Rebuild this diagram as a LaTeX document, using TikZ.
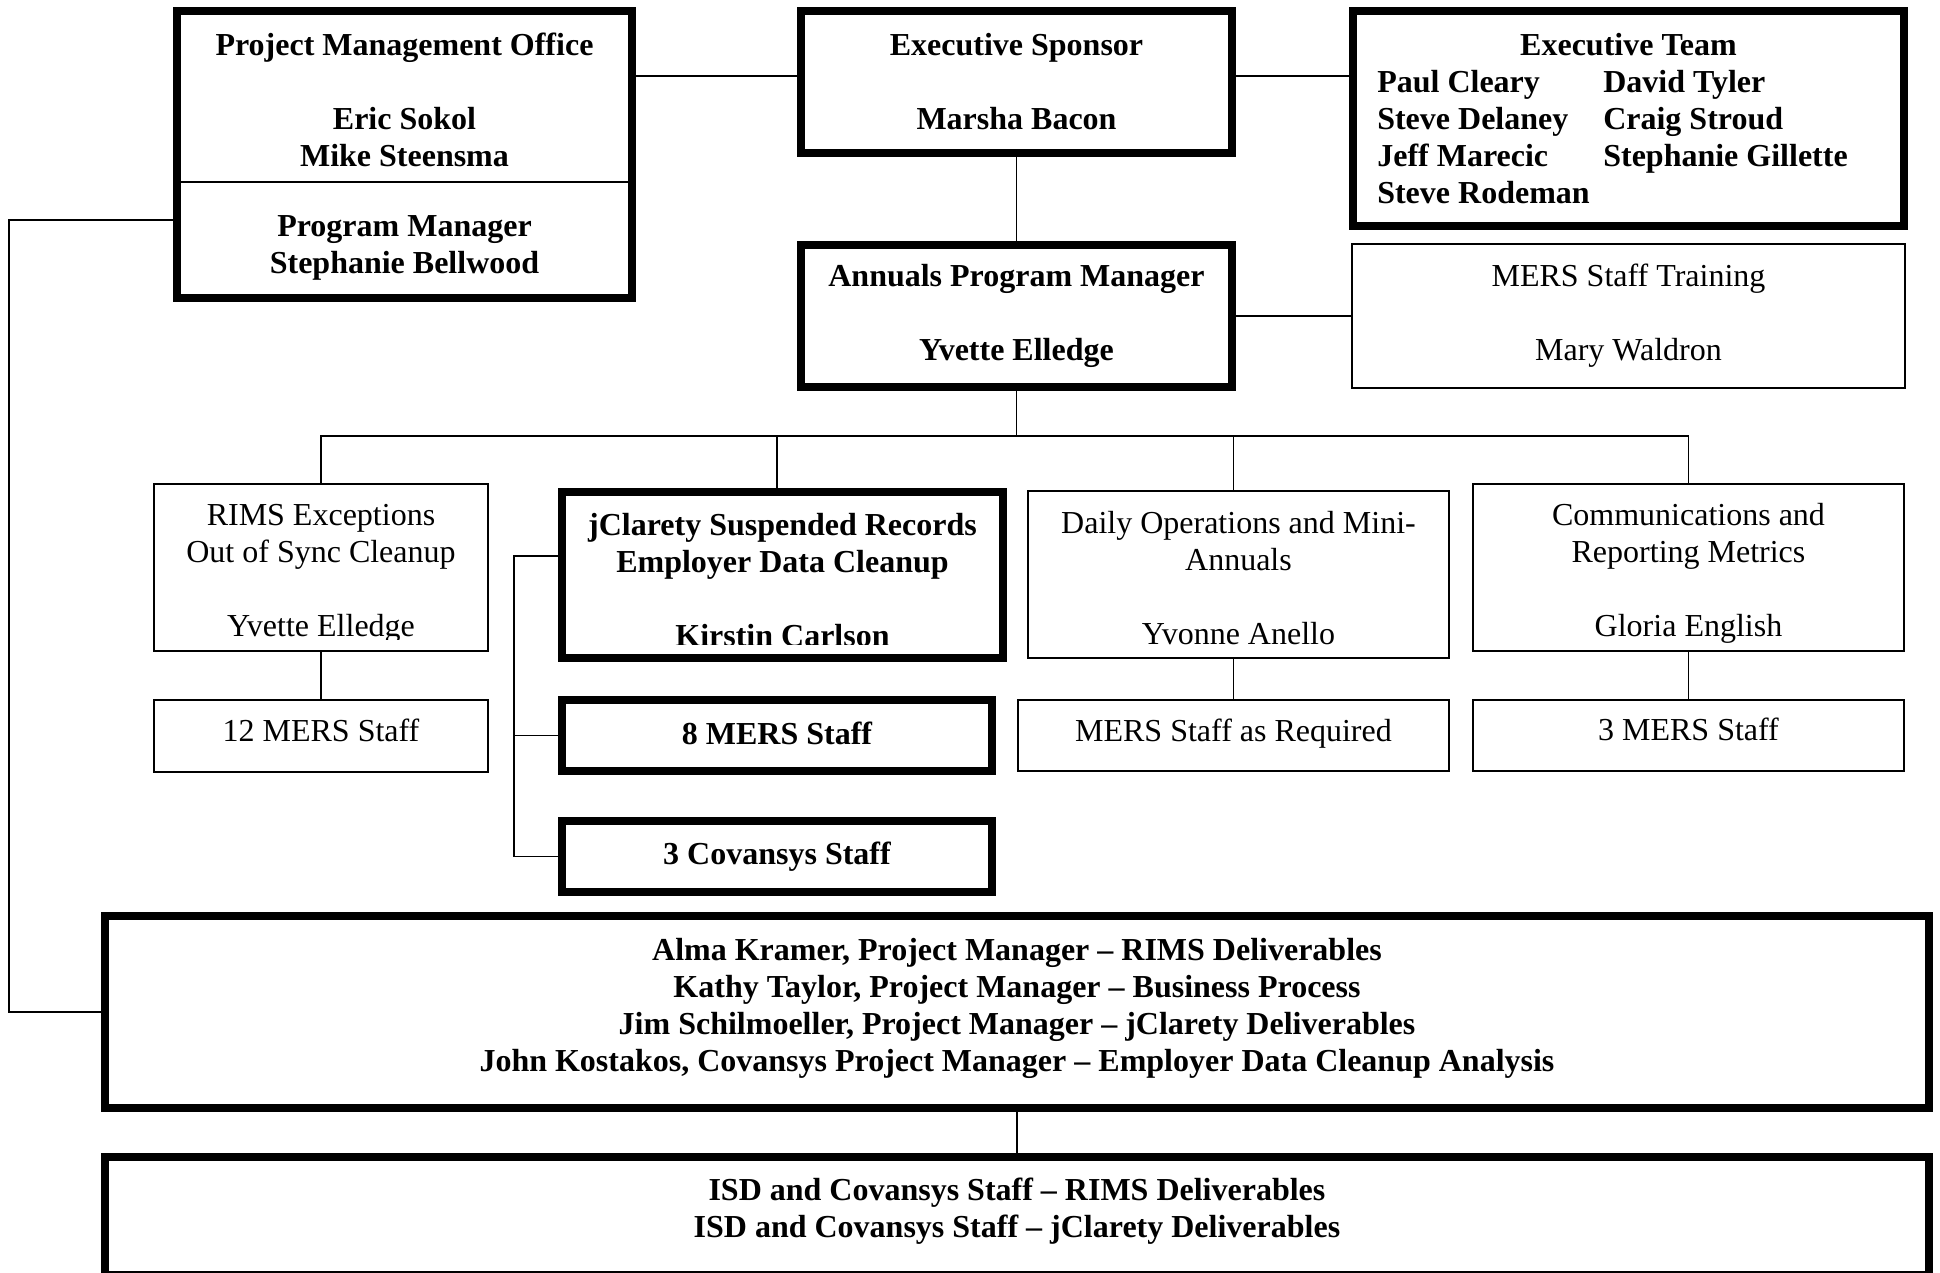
\documentclass[tikz,border=0pt]{standalone}
\usepackage{fontspec}
\setmainfont{Liberation Serif}
\usetikzlibrary{positioning, calc}

% invisible struts to nudge text in its box
\newcommand{\upstrut}[1]{\rule{0pt}{#1}}
\newcommand{\dnstrut}[1]{\rule[-#1]{0pt}{#1}}

\begin{document}
\begin{tikzpicture}[
    x=0.5pt, y=-0.5pt,
    thickbox/.style={rectangle, draw=black, line width=4pt, inner sep=0pt, align=center, font=\fontsize{16}{18.5}\selectfont\bfseries},
    thinbox/.style={rectangle, draw=black, line width=1pt, inner sep=0pt, align=center, font=\fontsize{16}{18.5}\selectfont},
    conn/.style={draw=black, line width=0.8pt}
]
    \useasboundingbox (0,0) rectangle (1940,1273);

    % Top row
    \node[thickbox, minimum width=227.5pt, minimum height=143.5pt] (pmo) at (404.5,154.5)
        {\upstrut{13.5pt}Project Management Office\\[18.5pt]Eric Sokol\\Mike Steensma\\[16.5pt]Program Manager\\Stephanie Bellwood};
    \node[thickbox, minimum width=215.5pt, minimum height=71pt] (sponsor) at (1016.5,82)
        {Executive Sponsor\\[18.5pt]Marsha Bacon};
    \node[thickbox, minimum width=275.5pt, minimum height=107.5pt] (team) at (1628.5,118.5)
        {\upstrut{17pt}Executive Team\\\begin{tabular}[t]{@{}p{113pt}@{}l@{}}Paul Cleary & David Tyler\\Steve Delaney & Craig Stroud\\Jeff Marecic & Stephanie Gillette\\Steve Rodeman &\end{tabular}\kern16pt};

    % Program manager
    \node[thickbox, minimum width=215.5pt, minimum height=71pt] (annuals) at (1016.5,316)
        {Annuals Program Manager\\[18.5pt]Yvette Elledge};
    \node[thinbox, minimum width=276.5pt, minimum height=72pt] (training) at (1628.5,316)
        {MERS Staff Training\\[18.5pt]Mary Waldron};

    % Work streams
    \node[thinbox, minimum width=167pt, minimum height=83.5pt] (rims) at (321,567.5)
        {\upstrut{17pt}RIMS Exceptions\\Out of Sync Cleanup\\[18.5pt]Yvette Elledge};
    \node[thickbox, minimum width=220.5pt, minimum height=83pt] (jcl) at (782.5,575)
        {\upstrut{16pt}jClarety Suspended Records\\Employer Data Cleanup\\[18.5pt]Kirstin Carlson};
    \node[thinbox, minimum width=210.5pt, minimum height=83.5pt] (daily) at (1238.5,574.5)
        {\upstrut{15pt}Daily Operations and Mini-\\Annuals\\[18.5pt]Yvonne Anello};
    \node[thinbox, minimum width=215.5pt, minimum height=83.5pt] (comms) at (1688.5,567.5)
        {\upstrut{17pt}Communications and\\Reporting Metrics\\[18.5pt]Gloria English};

    % overflowing text is cut off at the bottom
    \fill[white] ($(rims.south west)+(2,-2)$) rectangle ($(rims.south east)+(-2,-12)$);
    \fill[white] ($(jcl.south west)+(8,-8)$) rectangle ($(jcl.south east)+(-8,-17)$);

    % Staff
    \node[thinbox, minimum width=167pt, minimum height=36pt] (staff12) at (321,736) {12 MERS Staff\dnstrut{6pt}};
    \node[thickbox, minimum width=215pt, minimum height=35.5pt] (staff8) at (777,735.5) {8 MERS Staff\dnstrut{2pt}};
    \node[thickbox, minimum width=215pt, minimum height=35.5pt] (covansys) at (777,856.5) {3 Covansys Staff};
    \node[thinbox, minimum width=215.5pt, minimum height=35.5pt] (required) at (1233.5,735.5) {MERS Staff as Required\dnstrut{5.5pt}};
    \node[thinbox, minimum width=215.5pt, minimum height=35.5pt] (staff3) at (1688.5,735.5) {3 MERS Staff\dnstrut{6pt}};

    % Project managers and staff
    \node[thickbox, minimum width=912pt, minimum height=96pt] (pms) at (1017,1012)
        {Alma Kramer, Project Manager -- RIMS Deliverables\\Kathy Taylor, Project Manager -- Business Process\\Jim Schilmoeller, Project Manager -- jClarety Deliverables\\John Kostakos, Covansys Project Manager -- Employer Data Cleanup Analysis\dnstrut{7.5pt}};
    \node[thickbox, minimum width=912pt, minimum height=59pt] (isd) at (1017,1216)
        {ISD and Covansys Staff -- RIMS Deliverables\\ISD and Covansys Staff -- jClarety Deliverables\dnstrut{8.5pt}};

    % Connections
    \coordinate (top) at ($(sponsor.west)+(0,-6)$);
    \draw[conn] (pmo.west |- 0,182) -- (pmo.east |- 0,182);
    \draw[conn] (pmo.east |- top) -- (sponsor.west |- top);
    \draw[conn] (sponsor.east |- top) -- (team.west |- top);
    \draw[conn] (sponsor.south) -- (annuals.north);
    \draw[conn] (annuals.east) -- (training.west);

    \coordinate (bar) at (1016.5,436);
    \draw[conn] (annuals.south) -- (bar);
    \draw[conn] (rims.north) |- (bar) -| (comms.north);
    \draw[conn] (staff8.north |- bar) -- (staff8.north |- jcl.north);
    \draw[conn] (required.north |- bar) -- (required.north |- daily.north);

    \draw[conn] (rims.south) -- (staff12.north);
    \draw[conn] (required.north |- daily.south) -- (required.north);
    \draw[conn] (comms.south) -- (staff3.north);

    \coordinate (brk) at (514,0);
    \draw[conn] ($(jcl.west)+(0,-19)$) -| (brk |- covansys.west) -- (covansys.west);
    \draw[conn] (staff8.west) -- (staff8.west -| brk);

    \coordinate (lft) at (9,0);
    \draw[conn] ($(pmo.west)+(0,65.5)$) -| (lft |- pms.west) -- (pms.west);
    \draw[conn] (pms.south) -- (isd.north);

\end{tikzpicture}
\end{document}
